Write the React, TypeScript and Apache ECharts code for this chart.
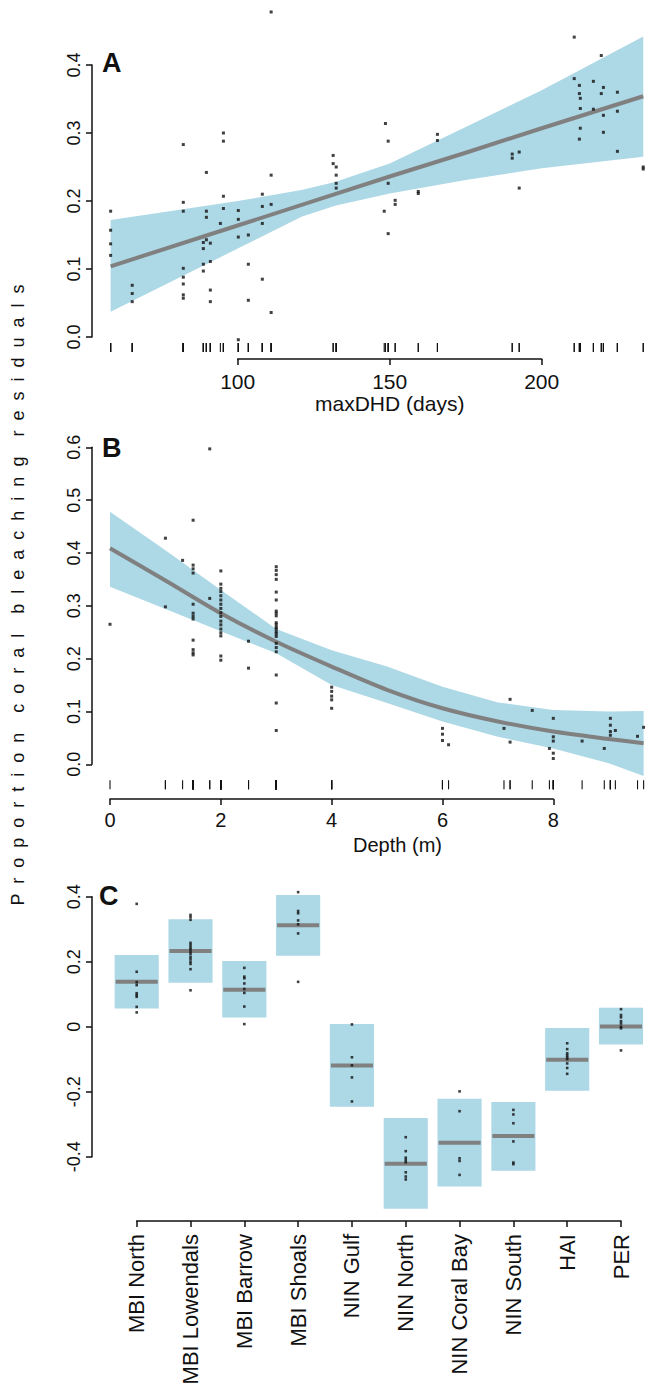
import React, { useEffect, useRef } from "react";
import * as echarts from "echarts";

const FONT = "'Liberation Sans', Arial, Helvetica, sans-serif";
const INK = "#111111";
const BAND = "#ADD8E6";
const FIT = "#808080";

// ---------- Panel A: maxDHD ----------
const dhdTicks = [100, 150, 200];
const residTicksA = [0, 0.1, 0.2, 0.3, 0.4];
const pointsA: [number, number][] = [
  [58.2, 0.185], [58.2, 0.157], [58.2, 0.137], [58.2, 0.12],
  [65.3, 0.076], [65.3, 0.064], [65.3, 0.052],
  [82.1, 0.283], [82.1, 0.198], [82.1, 0.185], [82.1, 0.101], [82.1, 0.088], [82.1, 0.078], [82.1, 0.062], [82.1, 0.057],
  [89.7, 0.242], [89.7, 0.185], [89.7, 0.176], [88.7, 0.139], [89.7, 0.143], [88.7, 0.13], [88.7, 0.107], [88.7, 0.097],
  [91.0, 0.138], [91.0, 0.111], [91.0, 0.069], [91.0, 0.052],
  [95.3, 0.3], [95.3, 0.288], [95.3, 0.207], [95.3, 0.189], [94.3, 0.167],
  [100.2, 0.186], [100.2, 0.173], [100.2, 0.147], [100.2, -0.004],
  [103.5, 0.15], [103.5, 0.107], [103.5, 0.054],
  [108.1, 0.21], [108.1, 0.192], [108.1, 0.167], [108.1, 0.085],
  [111.0, 0.478], [111.0, 0.238], [111.0, 0.195], [111.0, 0.036],
  [131.4, 0.267], [131.4, 0.255], [132.4, 0.25], [132.4, 0.238], [132.4, 0.226], [132.4, 0.219],
  [148.6, 0.314], [149.5, 0.288], [149.5, 0.226], [148.2, 0.185], [149.5, 0.152],
  [151.8, 0.201], [151.8, 0.195],
  [159.4, 0.214], [159.4, 0.211],
  [165.7, 0.298], [165.7, 0.289],
  [190.3, 0.269], [190.3, 0.263], [192.6, 0.272], [192.6, 0.219],
  [210.7, 0.441], [210.7, 0.38], [212.4, 0.37], [212.4, 0.358], [212.7, 0.351], [212.7, 0.336], [212.7, 0.307], [212.4, 0.291],
  [217.0, 0.376], [217.0, 0.335],
  [219.6, 0.414], [220.3, 0.367], [219.6, 0.358], [220.3, 0.326], [220.3, 0.301],
  [224.9, 0.36], [224.9, 0.332], [224.9, 0.273],
  [233.4, 0.25], [233.4, 0.247],
];
const dhdFitX = [58.2, 100, 132, 150, 175, 200, 233.4];
const dhdFitY = [0.104, 0.164, 0.21, 0.236, 0.271, 0.307, 0.354];
const dhdBandX = [58.2, 82, 100, 121, 132, 150, 175, 200, 233.4];
const dhdBandLower = [0.037, 0.09, 0.13, 0.177, 0.193, 0.211, 0.231, 0.248, 0.265];
const dhdBandUpper = [0.172, 0.188, 0.2, 0.216, 0.228, 0.255, 0.309, 0.363, 0.442];

// ---------- Panel B: Depth ----------
const depthTicks = [0, 2, 4, 6, 8];
const residTicksB = [0, 0.1, 0.2, 0.3, 0.4, 0.5, 0.6];
const pointsB: [number, number][] = [
  [0, 0.265],
  [1.0, 0.428], [1.0, 0.298],
  [1.31, 0.386],
  [1.5, 0.462], [1.5, 0.377], [1.5, 0.37], [1.5, 0.362], [1.5, 0.303], [1.5, 0.286], [1.5, 0.28], [1.5, 0.275], [1.5, 0.235], [1.5, 0.217], [1.5, 0.211], [1.5, 0.207],
  [1.8, 0.597], [1.8, 0.314],
  [2.0, 0.366], [2.0, 0.341], [2.0, 0.333], [2.0, 0.327], [2.0, 0.319], [2.0, 0.311], [2.0, 0.303], [2.0, 0.295], [2.0, 0.287], [2.0, 0.28], [2.0, 0.271], [2.0, 0.264], [2.0, 0.256], [2.0, 0.249], [2.0, 0.243], [2.0, 0.205], [2.0, 0.197],
  [2.5, 0.233], [2.5, 0.182],
  [3.0, 0.374], [3.0, 0.367], [3.0, 0.359], [3.0, 0.35], [3.0, 0.326], [3.0, 0.311], [3.0, 0.29], [3.0, 0.286], [3.0, 0.281], [3.0, 0.268], [3.0, 0.264], [3.0, 0.259], [3.0, 0.256], [3.0, 0.251], [3.0, 0.247], [3.0, 0.242], [3.0, 0.229], [3.0, 0.221], [3.0, 0.213], [3.0, 0.169], [3.0, 0.116], [3.0, 0.064],
  [4.0, 0.146], [4.0, 0.138], [4.0, 0.129], [4.0, 0.122], [4.0, 0.106],
  [6.0, 0.068], [6.0, 0.057], [6.0, 0.045], [6.11, 0.037],
  [7.11, 0.068], [7.22, 0.123], [7.22, 0.042], [7.62, 0.102], [7.93, 0.03],
  [8.0, 0.087], [8.0, 0.052], [8.0, 0.044], [8.0, 0.021], [8.0, 0.011],
  [8.52, 0.044], [8.92, 0.03],
  [9.03, 0.087], [9.03, 0.074], [9.03, 0.062], [9.03, 0.055], [9.12, 0.064], [9.52, 0.053], [9.63, 0.07],
];
const depthX = [0, 1, 2, 3, 4, 5, 6, 7, 8, 9, 9.63];
const depthFit = [0.409, 0.348, 0.286, 0.232, 0.185, 0.141, 0.106, 0.081, 0.062, 0.048, 0.04];
const depthUpper = [0.478, 0.405, 0.33, 0.256, 0.216, 0.185, 0.147, 0.117, 0.103, 0.1, 0.101];
const depthLower = [0.336, 0.294, 0.252, 0.21, 0.15, 0.116, 0.081, 0.052, 0.03, 0.002, -0.022];

// ---------- Panel C: sites ----------
const sites = ["MBI North", "MBI Lowendals", "MBI Barrow", "MBI Shoals", "NIN Gulf", "NIN North", "NIN Coral Bay", "NIN South", "HAI", "PER"];
const residTicksC = [-0.4, -0.2, 0, 0.2, 0.4];
const siteLower = [0.056, 0.135, 0.028, 0.218, -0.246, -0.56, -0.492, -0.443, -0.197, -0.055];
const siteMedian = [0.138, 0.233, 0.114, 0.312, -0.119, -0.422, -0.357, -0.336, -0.102, 0.001];
const siteUpper = [0.221, 0.331, 0.202, 0.405, 0.008, -0.281, -0.222, -0.232, -0.004, 0.058];
const sitePoints: number[][] = [
  [0.378, 0.169, 0.137, 0.128, 0.103, 0.097, 0.092, 0.061, 0.044],
  [0.344, 0.337, 0.329, 0.258, 0.251, 0.244, 0.238, 0.231, 0.224, 0.215, 0.208, 0.2, 0.193, 0.177, 0.112],
  [0.181, 0.154, 0.149, 0.133, 0.116, 0.104, 0.062, 0.008],
  [0.414, 0.356, 0.349, 0.327, 0.315, 0.287, 0.138],
  [0.007, -0.094, -0.119, -0.156, -0.23],
  [-0.34, -0.383, -0.403, -0.41, -0.417, -0.448, -0.461, -0.47],
  [-0.199, -0.26, -0.405, -0.413, -0.456],
  [-0.256, -0.27, -0.297, -0.353, -0.418, -0.423],
  [-0.051, -0.069, -0.082, -0.088, -0.094, -0.1, -0.113, -0.127, -0.145],
  [0.054, 0.036, 0.029, 0.017, 0.01, 0.0, -0.005, -0.073],
];

const Y_TITLE = "Proportion coral bleaching residuals";

const spaced = (s: string) => s.split(" ").map((w) => w.split("").join("  ")).join("    ");

const mkLine = () => ({ show: true, onZero: false, symbol: ["none", "none"], lineStyle: { color: INK, width: 1.5, type: "solid", opacity: 1 } });
const mkTick = () => ({ show: true, inside: false, length: 6, lineStyle: { color: INK, width: 1.5, type: "solid", opacity: 1 } });

function bandSeries(xs: number[], lower: number[], upper: number[], idx: number) {
  return {
    type: "custom", xAxisIndex: idx, yAxisIndex: idx, clip: false, silent: true, z: 1,
    data: xs.map((x, i) => [x, lower[i], upper[i]]),
    encode: { x: 0, y: [1, 2] },
    renderItem: (params: any, api: any) => {
      if (params.dataIndex !== 0) return null;
      const up = xs.map((x, i) => api.coord([x, upper[i]]));
      const lo = xs.map((x, i) => api.coord([x, lower[i]])).reverse();
      return { type: "polygon", shape: { points: up.concat(lo) }, style: { fill: BAND } };
    },
  };
}

function fitSeries(xs: number[], ys: number[], idx: number, smooth: number) {
  return {
    type: "custom", xAxisIndex: idx, yAxisIndex: idx, clip: false, silent: true, z: 2,
    data: xs.map((x, i) => [x, ys[i]]),
    renderItem: (params: any, api: any) => {
      if (params.dataIndex !== 0) return null;
      const pts = xs.map((x, i) => api.coord([x, ys[i]]));
      return {
        type: "polyline", shape: { points: pts, smooth },
        style: { stroke: FIT, lineWidth: 4, fill: "none", lineCap: "butt" },
      };
    },
  };
}

function rug(points: [number, number][], idx: number, from: number, to: number) {
  return {
    type: "custom", xAxisIndex: idx, yAxisIndex: idx, clip: false, silent: true, z: 3,
    data: points.map((p) => [p[0], 0]),
    renderItem: (_p: any, api: any) => {
      const c = api.coord([api.value(0), 0]);
      return {
        type: "line",
        shape: { x1: c[0], y1: c[1] + from, x2: c[0], y2: c[1] + to },
        style: { stroke: INK, lineWidth: 1.1 },
      };
    },
  };
}

function scatter(points: any[], idx: number, size: number) {
  return {
    type: "scatter", xAxisIndex: idx, yAxisIndex: idx, data: points, symbol: "rect", z: 4,
    symbolSize: size, itemStyle: { color: INK }, clip: false, silent: true,
  };
}

export default function App() {
  const ref = useRef<HTMLDivElement>(null);
  useEffect(() => {
    if (!ref.current) return;
    const chart = echarts.init(ref.current, undefined, { renderer: "svg" });
    const fmt1 = (v: number) => v.toFixed(1);
    const fmtC = (v: number) => (Math.abs(v) < 1e-9 ? "0" : String(Math.round(v * 10) / 10));
    const sitePts: [number, number][] = [];
    sitePoints.forEach((arr, i) => arr.forEach((v) => sitePts.push([i, v])));
    const boxData = sites.map((_, i) => [i, siteLower[i], siteMedian[i], siteUpper[i]]);

    const yAxisBase = (gridIndex: number, ticks: number[], interval: number, offset: number, fmt: any) => ({
      gridIndex, type: "value", position: "left", min: ticks[0], max: ticks[ticks.length - 1], interval, offset, z: 10,
      axisLine: mkLine(), axisTick: mkTick(), splitLine: { show: false },
      axisLabel: { fontSize: 18, color: INK, fontFamily: FONT, rotate: 90, margin: 9, formatter: fmt },
    });

    const option: any = {
      animation: false,
      backgroundColor: "#ffffff",
      textStyle: { fontFamily: FONT, color: INK },
      grid: [
        { left: 237.7, top: 65, width: 304, height: 272, containLabel: false },
        { left: 110, top: 447.3, width: 443.3, height: 317, containLabel: false },
        { left: 136.7, top: 896.7, width: 484.3, height: 260, containLabel: false },
      ],
      xAxis: [
        {
          gridIndex: 0, type: "value", position: "bottom", min: dhdTicks[0], max: dhdTicks[dhdTicks.length - 1], interval: 50,
          offset: 22, z: 10, axisLine: mkLine(), axisTick: mkTick(), splitLine: { show: false },
          axisLabel: { fontSize: 21, color: INK, fontFamily: FONT, margin: 12 },
          name: "maxDHD (days)", nameLocation: "middle", nameGap: 33,
          nameTextStyle: { fontSize: 21, color: INK, fontFamily: FONT },
        },
        {
          gridIndex: 1, type: "value", position: "bottom", min: depthTicks[0], max: depthTicks[depthTicks.length - 1], interval: 2,
          offset: 34.7, z: 10, axisLine: mkLine(), axisTick: mkTick(), splitLine: { show: false },
          axisLabel: { fontSize: 20, color: INK, fontFamily: FONT, margin: 11 },
        },
        {
          gridIndex: 2, type: "category", position: "bottom", data: sites, boundaryGap: false,
          offset: 64.3, z: 10, axisLine: mkLine(), axisTick: { ...mkTick(), interval: 0 }, splitLine: { show: false },
          axisLabel: { fontSize: 22, color: INK, fontFamily: FONT, rotate: 90, interval: 0, margin: 13 },
        },
      ],
      yAxis: [
        yAxisBase(0, residTicksA, 0.1, 145.7, fmt1),
        yAxisBase(1, residTicksB, 0.1, 18, fmt1),
        yAxisBase(2, residTicksC, 0.2, 44.7, fmtC),
      ],
      series: [
        bandSeries(dhdBandX, dhdBandLower, dhdBandUpper, 0),
        fitSeries(dhdFitX, dhdFitY, 0, 0),
        scatter(pointsA, 0, 3),
        rug(pointsA, 0, 6, 15),
        bandSeries(depthX, depthLower, depthUpper, 1),
        fitSeries(depthX, depthFit, 1, 0.3),
        scatter(pointsB, 1, 3),
        rug(pointsB, 1, 16, 25),
        {
          type: "custom", xAxisIndex: 2, yAxisIndex: 2, clip: false, silent: true, z: 1, data: boxData,
          renderItem: (_p: any, api: any) => {
            const i = api.value(0);
            const lo = api.coord([i, api.value(1)]);
            const md = api.coord([i, api.value(2)]);
            const hi = api.coord([i, api.value(3)]);
            const w = api.size([1, 0])[0] * 0.82;
            return {
              type: "group",
              children: [
                { type: "rect", shape: { x: lo[0] - w / 2, y: hi[1], width: w, height: lo[1] - hi[1] }, style: { fill: BAND } },
                { type: "line", shape: { x1: md[0] - w / 2 + 1, y1: md[1], x2: md[0] + w / 2 - 1, y2: md[1] }, style: { stroke: FIT, lineWidth: 4 } },
              ],
            };
          },
        },
        scatter(sitePts, 2, 2.6),
      ],
      graphic: [
        { type: "text", left: 102, top: 49, style: { text: "A", font: `bold 27px ${FONT}`, fill: INK } },
        { type: "text", left: 102, top: 434, style: { text: "B", font: `bold 27px ${FONT}`, fill: INK } },
        { type: "text", left: 99, top: 882, style: { text: "C", font: `bold 27px ${FONT}`, fill: INK } },
        {
          type: "text", x: 397.5, y: 845,
          style: { text: "Depth (m)", font: `20px ${FONT}`, fill: INK, align: "center", verticalAlign: "middle" },
        },
        {
          type: "text", x: 18, y: 595, rotation: Math.PI / 2,
          style: { text: spaced(Y_TITLE), font: `18px ${FONT}`, fill: INK, align: "center", verticalAlign: "middle" },
        },
      ],
    };
    chart.setOption(option);
    return () => chart.dispose();
  }, []);
  return (
    <div
      ref={ref}
      style={{ position: "absolute", left: 0, top: 0, width: 645, height: 1395, background: "#fff" }}
    />
  );
}
